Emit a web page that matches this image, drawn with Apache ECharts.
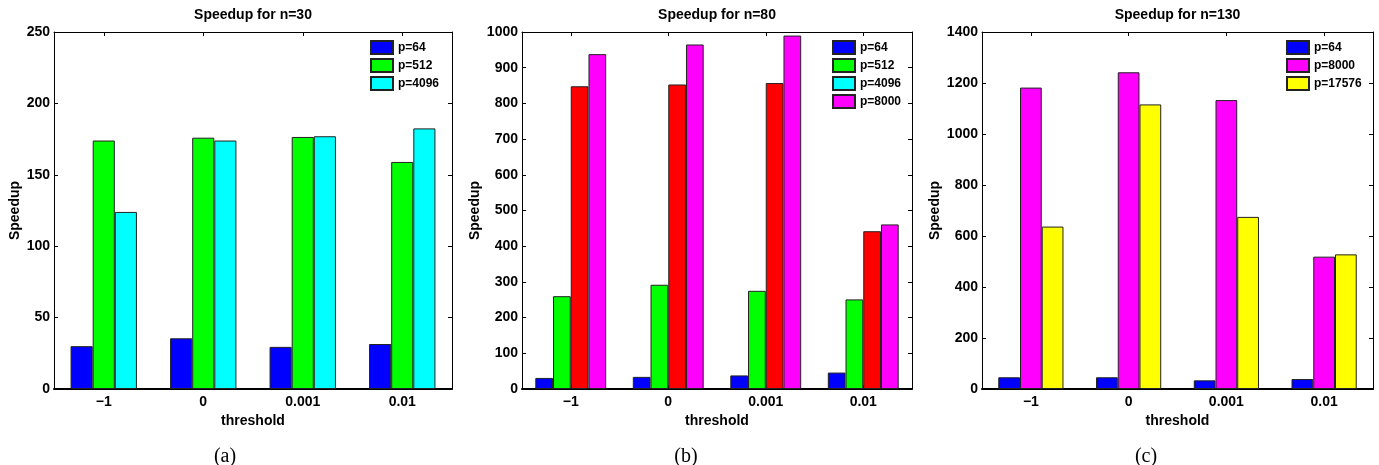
<!DOCTYPE html>
<html>
<head>
<meta charset="utf-8">
<script src="https://cdn.jsdelivr.net/npm/echarts@6/dist/echarts.min.js"></script>
<style>
html,body{margin:0;padding:0;background:#fff;}
#chart{width:1379px;height:465px;}
</style>
</head>
<body>
<div id="chart"></div>
<script>
// ---- data ----
const categories = ['\u22121', '0', '0.001', '0.01'];

const titles = ['Speedup for n=30', 'Speedup for n=80', 'Speedup for n=130'];
const captions = ['(a)', '(b)', '(c)'];

// panel (a) n=30
const a_names = ['p=64', 'p=512', 'p=4096'];
const a_p64 = [30, 35.5, 29.5, 31.5];
const a_p512 = [174, 176, 176.5, 159];
const a_p4096 = [124, 174, 177, 182.5];

// panel (b) n=80
const b_names = ['p=64', 'p=512', 'p=4096', 'p=8000'];
const b_p64 = [31, 34, 38, 46];
const b_p512 = [260, 292, 275, 251];
const b_p4096 = [848, 853, 857, 442];
const b_p8000 = [938, 965, 990, 461];

// panel (c) n=130
const c_names = ['p=64', 'p=8000', 'p=17576'];
const c_p64 = [46, 46, 34, 39];
const c_p8000 = [1182, 1242, 1133, 519];
const c_p17576 = [637, 1116, 675, 528];

// y axis ranges
const yMax = [250, 1000, 1400];
const yInterval = [50, 100, 200];

// ---- styling / layout ----
const FONT = 'Liberation Sans, Arial, sans-serif';
const colors = {'p=64':'#0000ff','p=512':'#00ff00','p=4096':'#00ffff','p=8000':'#ff00ff','p=17576':'#ffff00'};
const colorsB = {'p=64':'#0000ff','p=512':'#00ff00','p=4096':'#ff0000','p=8000':'#ff00ff'};

const grids = [
  {left:54, top:32, width:398, height:357},
  {left:522, top:32, width:390, height:357},
  {left:982, top:32, width:391, height:357}
];
const nameGaps = [32, 40, 40];
const legendLeft = [370, 832, 1286];
const captionX = [225, 686, 1146];
const catGap = ['33.3%', '27.3%', '33.3%'];

const panels = [
  {names:a_names, data:[a_p64, a_p512, a_p4096], col:colors},
  {names:b_names, data:[b_p64, b_p512, b_p4096, b_p8000], col:colorsB},
  {names:c_names, data:[c_p64, c_p8000, c_p17576], col:colors}
];

const option = {
  animation:false,
  backgroundColor:'#fff',
  title:[], grid:[], xAxis:[], yAxis:[], legend:[], series:[],
  graphic:[]
};

panels.forEach((p, i) => {
  const g = grids[i];
  option.grid.push(Object.assign({containLabel:false}, g));
  option.title.push({
    text:titles[i], left:g.left + g.width/2, top:8, textAlign:'center', padding:0,
    textStyle:{fontFamily:FONT, fontSize:14, fontWeight:'bold', color:'#000'}
  });
  // bottom x axis
  option.xAxis.push({
    type:'category', data:categories, gridIndex:i, position:'bottom',
    name:'threshold', nameLocation:'middle', nameGap:22,
    nameTextStyle:{fontFamily:FONT, fontSize:14, fontWeight:'bold', color:'#000'},
    axisLine:{onZero:false, lineStyle:{color:'#000', width:2}},
    axisTick:{show:true, inside:true, alignWithLabel:true, length:4, lineStyle:{color:'#000'}},
    axisLabel:{fontFamily:FONT, fontSize:14, fontWeight:'bold', color:'#000', margin:6},
    splitLine:{show:false}
  });
  // top mirror axis
  option.xAxis.push({
    type:'category', data:categories, gridIndex:i, position:'top',
    axisLine:{show:true, onZero:false, lineStyle:{color:'#000', width:1}},
    axisTick:{show:true, inside:true, alignWithLabel:true, length:4, lineStyle:{color:'#000'}},
    axisLabel:{show:false}, splitLine:{show:false}
  });
  option.yAxis.push({
    type:'value', gridIndex:i, position:'left', min:0, max:yMax[i], interval:yInterval[i],
    name:'Speedup', nameLocation:'middle', nameGap:nameGaps[i], nameRotate:90,
    nameTextStyle:{fontFamily:FONT, fontSize:14, fontWeight:'bold', color:'#000'},
    axisLine:{show:true, onZero:false, lineStyle:{color:'#000', width:1}},
    axisTick:{show:true, inside:true, length:4, lineStyle:{color:'#000'}},
    axisLabel:{fontFamily:FONT, fontSize:14, fontWeight:'bold', color:'#000', margin:4,
      formatter:(v) => String(v)},
    splitLine:{show:false}
  });
  option.yAxis.push({
    type:'value', gridIndex:i, position:'right', min:0, max:yMax[i], interval:yInterval[i],
    axisLine:{show:true, onZero:false, lineStyle:{color:'#000', width:1}},
    axisTick:{show:true, inside:true, length:4, lineStyle:{color:'#000'}},
    axisLabel:{show:false}, splitLine:{show:false}
  });
  option.legend.push({
    data:p.names, orient:'vertical', left:legendLeft[i], top:40, padding:0,
    itemWidth:22, itemHeight:13, itemGap:3, icon:'rect', selectedMode:false,
    textStyle:{fontFamily:FONT, fontSize:12, fontWeight:'bold', color:'#000', lineHeight:13}
  });
  p.names.forEach((nm, k) => {
    option.series.push({
      type:'bar', name:nm, xAxisIndex:2*i, yAxisIndex:2*i, data:p.data[k],
      barGap:'0%', barCategoryGap:catGap[i],
      itemStyle:{color:p.col[nm], borderColor:'#222', borderWidth:1}
    });
  });
  option.graphic.push({
    type:'text', x:captionX[i], y:457,
    style:{text:captions[i], fontFamily:'Liberation Serif, Times New Roman, serif', fontSize:20,
      fill:'#000', align:'center', verticalAlign:'middle'}
  });
});

const chart = echarts.init(document.getElementById('chart'), null, {renderer:'canvas'});
chart.setOption(option);
</script>
</body>
</html>
